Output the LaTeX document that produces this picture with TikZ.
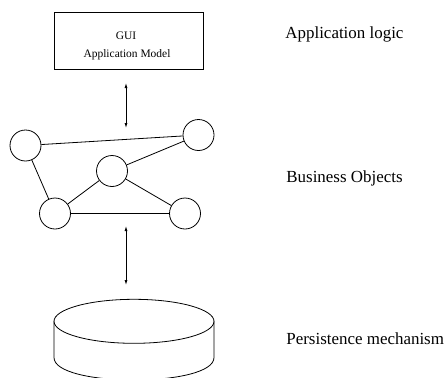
\documentclass[tikz,border=0pt]{standalone}
\usepackage{fontspec}
\setmainfont{Liberation Serif}
\usetikzlibrary{arrows.meta}
\begin{document}
\begin{tikzpicture}[x=1bp,y=-1bp,line width=0.8bp,
  obj/.style={draw,circle,minimum size=31bp,inner sep=0pt},
  layer/.style={anchor=base west,font=\fontsize{17}{20}\selectfont,inner sep=0pt},
  boxtext/.style={anchor=base,font=\fontsize{11.5}{13}\selectfont,inner sep=0pt},
  link/.style={{Latex[length=5bp,width=3bp]}-{Latex[length=5bp,width=3bp]}}]
\useasboundingbox (0,0) rectangle (447,377);
\clip (0,0) rectangle (447,377);

% GUI / application model box
\node[draw,minimum width=149bp,minimum height=57bp,inner sep=0pt] (gui) at (128.5,40.5) {};
\node[boxtext] (guilbl) at (126,39) {GUI};
\node[boxtext] (modellbl) at (127,57.5) {Application Model};

% business object graph
\node[obj] (o1) at (25.5,145.5) {};
\node[obj] (o2) at (198.5,135) {};
\node[obj] (o3) at (112,171) {};
\node[obj] (o4) at (55,213.5) {};
\node[obj] (o5) at (185,213.5) {};
\draw (o1) -- (o2);
\draw (o1) -- (o4);
\draw (o3) -- (o2);
\draw (o3) -- (o4);
\draw (o3) -- (o5);
\draw (o4) -- (o5);

% arrows between layers
\coordinate (a1) at (126,83);
\coordinate (b1) at (126,128);
\draw[link] (a1) -- (b1);
\coordinate (a2) at (126,226);
\coordinate (b2) at (126,285);
\draw[link] (a2) -- (b2);

% persistence store (cylinder): top ellipse, sides and front bottom rim
\coordinate (cyl) at (134,321.3);
\draw (cyl) ellipse [x radius=80bp, y radius=22bp];
\draw (54,321.3) -- (54,357.5)
  .. controls (54,387.5) and (214,387.5) .. (214,357.5) -- (214,321.3);

% layer labels
\node[layer] (l1) at (285,38.5) {Application logic};
\node[layer] (l2) at (286,182.5) {Business Objects};
\node[layer] (l3) at (286,344) {Persistence mechanism};
\end{tikzpicture}
\end{document}
